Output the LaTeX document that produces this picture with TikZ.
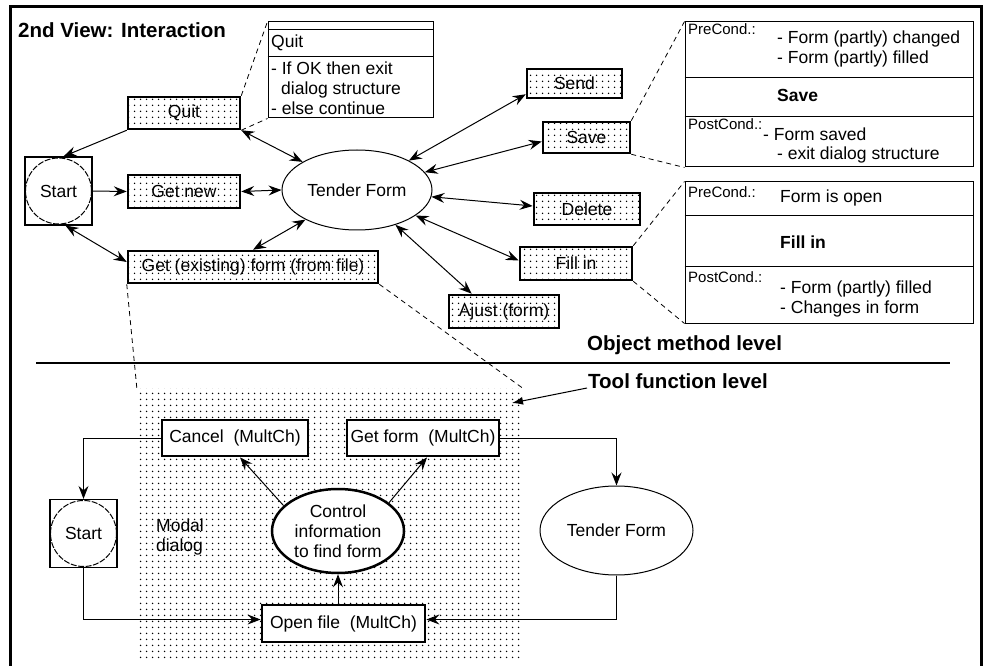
\documentclass[tikz,border=0pt]{standalone}
\usepackage{fontspec}
\setmainfont{Liberation Sans}
\usetikzlibrary{arrows.meta,shapes.geometric,patterns.meta}

% fine grid of dots used as a screen tone
\tikzdeclarepattern{
  name=griddots,
  type=uncolored,
  bounding box={(0pt,0pt) and (6pt,6pt)},
  tile size={(6pt,6pt)},
  code={\fill (3pt,3pt) circle (0.9pt);}
}

\newcommand\labelsize{\fontsize{15}{18}\selectfont}
\newcommand\bodysize{\fontsize{17.5}{20}\selectfont}
\newcommand\headsize{\bfseries\fontsize{20.5}{24}\selectfont}

\begin{document}
\begin{tikzpicture}[x=1pt,y=-1pt,
  every node/.style={font=\bodysize, inner sep=0pt},
  >={Stealth[length=13pt,width=10pt,inset=4.5pt]},
  link/.style={line width=1pt},
  dotbox/.style={draw, rectangle, line width=2.5pt, pattern=griddots},
  toolbox/.style={draw, rectangle, line width=2.8pt, fill=white},
  notebox/.style={draw, rectangle, line width=1pt},
  divider/.style={line width=1pt},
  leader/.style={dash pattern=on 5pt off 4pt, line width=0.8pt},
  startsq/.style={draw, rectangle, line width=1.2pt, minimum width=67pt, minimum height=68pt},
  startcirc/.style={draw, circle, line width=1pt, dash pattern=on 6pt off 1.5pt, minimum size=66pt},
  heading/.style={font=\headsize, anchor=base west},
  condlabel/.style={font=\labelsize, anchor=base west},
  notetxt/.style={anchor=base west},
  notehead/.style={font=\bfseries\bodysize, anchor=base west},
]
\useasboundingbox (0,0) rectangle (989,666);

% outer frame
\draw[line width=3pt] (10.5,672) -- (10.5,6.5) -- (981.5,6.5) -- (981.5,672);

% screened area of the modal dialog
\node[pattern=griddots, minimum width=385pt, minimum height=272pt] (modal) at (329.5,524) {};

% ---------- object method level ----------
\node[heading] (title) at (18,38) {2nd View: Interaction};

\node[startsq] (start) at (58.5,191) {};
\node[startcirc] (startring) at (start.center) {Start};

\node[dotbox, minimum width=112pt, minimum height=32pt] (quit) at (184,113) {Quit};
\node[dotbox, minimum width=112pt, minimum height=33pt] (getnew) at (184,191.5) {Get new};
\node[dotbox, minimum width=250pt, minimum height=32pt] (getex) at (253,267) {Get (existing) form (from file)};
\node[draw, ellipse, line width=1pt, minimum width=150pt, minimum height=80pt] (tf) at (357,190) {Tender Form};
\node[dotbox, minimum width=95pt, minimum height=29pt] (send) at (574.5,83.5) {Send};
\node[dotbox, minimum width=87pt, minimum height=31pt] (save) at (586.5,137.5) {Save};
\node[dotbox, minimum width=106pt, minimum height=32pt] (delete) at (587,209) {Delete};
\node[dotbox, minimum width=112pt, minimum height=33pt] (fillin) at (576,263.5) {Fill in};
\node[dotbox, minimum width=110pt, minimum height=33pt] (ajust) at (504,311.5) {Ajust (form)};

% note: Quit
\node[notebox, minimum width=165pt, minimum height=96pt] (quitnote) at (350.5,70) {};
\draw[divider] ([yshift=-8pt]quitnote.north west) -- ([yshift=-8pt]quitnote.north east);
\draw[divider] ([yshift=-35pt]quitnote.north west) -- ([yshift=-35pt]quitnote.north east);
\node[notetxt] (qn-name) at (271,48) {Quit};
\node[notetxt] (qn-l1) at (271,75) {- If OK then exit};
\node[notetxt] (qn-l2) at (281,95) {dialog structure};
\node[notetxt] (qn-l3) at (271,115) {- else continue};

% note: Save
\node[notebox, minimum width=288pt, minimum height=145pt] (savenote) at (829,94.5) {};
\draw[divider] ([yshift=-56pt]savenote.north west) -- ([yshift=-56pt]savenote.north east);
\draw[divider] ([yshift=-95pt]savenote.north west) -- ([yshift=-95pt]savenote.north east);
\node[condlabel] (sn-pre) at (688,35) {PreCond.:};
\node[notetxt] (sn-pre1) at (777,44) {- Form (partly) changed};
\node[notetxt] (sn-pre2) at (777,64) {- Form (partly) filled};
\node[notehead] (sn-name) at (777,102) {Save};
\node[condlabel] (sn-post) at (688,130) {PostCond.:};
\node[notetxt] (sn-post1) at (763,141) {- Form saved};
\node[notetxt] (sn-post2) at (777,160) {- exit dialog structure};

% note: Fill in
\node[notebox, minimum width=288pt, minimum height=141pt] (fillnote) at (829,252.5) {};
\draw[divider] ([yshift=-34pt]fillnote.north west) -- ([yshift=-34pt]fillnote.north east);
\draw[divider] ([yshift=-85pt]fillnote.north west) -- ([yshift=-85pt]fillnote.north east);
\node[condlabel] (fn-pre) at (688,197) {PreCond.:};
\node[notetxt] (fn-pre1) at (780,203) {Form is open};
\node[notehead] (fn-name) at (780,248) {Fill in};
\node[condlabel] (fn-post) at (688,282) {PostCond.:};
\node[notetxt] (fn-post1) at (780,293) {- Form (partly) filled};
\node[notetxt] (fn-post2) at (780,313) {- Changes in form};

% connectors around the tender form
\draw[link,->] (quit.south west) -- ([xshift=5pt]start.north);
\draw[link,<->] (quit.south east) -- (tf);
\draw[link,->] (start.east) -- (getnew.west);
\draw[link,<->] (getnew.east) -- (tf.west);
\draw[link,<->] ([xshift=7pt]start.south) -- ([yshift=5pt]getex.west);
\draw[link,<->] (getex.north) -- (tf);
\draw[link,<->] (tf) -- ([yshift=5pt]send.south west);
\draw[link,<->] (tf) -- ([yshift=-4pt]save.west);
\draw[link,<->] (tf) -- ([yshift=3pt]delete.west);
\draw[link,<->] (tf) -- ([yshift=3pt]fillin.west);
\draw[link,<->] (tf) -- ([xshift=24pt]ajust.north west);

% leaders to the notes and to the dialog
\draw[leader] (quit.north east) -- (quitnote.north west);
\draw[leader] (quit.south east) -- (quitnote.south west);
\draw[leader] (save.north east) -- (savenote.north west);
\draw[leader] (save.south east) -- (savenote.south west);
\draw[leader] (fillin.north east) -- (fillnote.north west);
\draw[leader] (fillin.south east) -- (fillnote.south west);
\draw[leader] (getex.south west) -- (modal.north west);
\draw[leader] (getex.south east) -- (modal.north east);

% level separator
\node[heading] (objlevel) at (587,350) {Object method level};
\draw[line width=1.2pt] (36,363) -- (950,363);
\node[heading] (toollevel) at (588,388) {Tool function level};
\coordinate (toolpoint) at (512,403);
\draw[line width=1pt, -{Latex[length=11pt,width=8pt]}] ([xshift=-1pt]toollevel.base west) -- (toolpoint);

% ---------- tool function level ----------
\node[toolbox, minimum width=146pt, minimum height=36pt] (cancel) at (235,438) {Cancel\ \ (MultCh)};
\node[toolbox, minimum width=152pt, minimum height=36pt] (getform) at (423,438) {Get form\ \ (MultCh)};
\node[toolbox, minimum width=163pt, minimum height=37pt] (openfile) at (343.5,623.5) {Open file\ \ (MultCh)};
\node[draw, ellipse, fill=white, line width=2.5pt, minimum width=132pt, minimum height=84pt, align=center] (ctrl) at (338,531) {Control\\information\\to find form};
\node[startsq] (startb) at (83.5,533.5) {};
\node[startcirc] (startbring) at (startb.center) {Start};
\node[draw, ellipse, line width=1pt, minimum width=153pt, minimum height=89pt] (tfb) at (616.5,530.5) {Tender Form};
\node[notetxt] (modal-l1) at (156,531) {Modal};
\node[notetxt] (modal-l2) at (156,551) {dialog};

\draw[link,->] (cancel.west) -| (startb.north);
\draw[link,->] (startb.south) |- ([yshift=4pt]openfile.west);
\draw[link,->] (getform.east) -| (tfb.north);
\draw[link,->] (tfb.south) |- ([yshift=4pt]openfile.east);
\draw[link,->] (ctrl.155) -- ([xshift=5pt]cancel.south);
\draw[link,->] (ctrl.29) -- ([xshift=4pt]getform.south);
\draw[link,->] (ctrl.south |- openfile.north) -- (ctrl.south);
\end{tikzpicture}
\end{document}
